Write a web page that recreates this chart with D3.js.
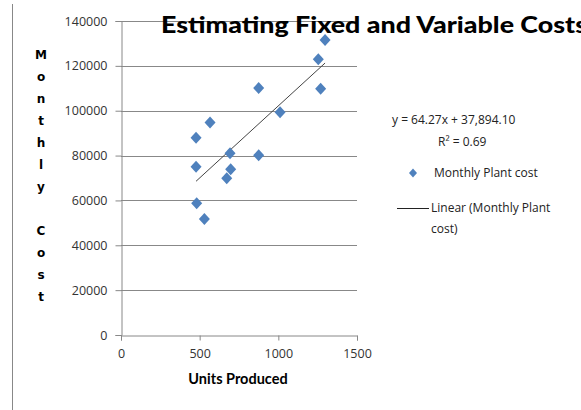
<!DOCTYPE html>
<html>
<head>
<meta charset="utf-8">
<script src="https://cdn.jsdelivr.net/npm/d3@7"></script>
<style>
  body { margin: 0; background: #fff; }
  svg { display: block; }
</style>
</head>
<body>
<div class="canvas"></div>
<script>
// data
const units = [477, 566, 477, 693, 697, 672, 875, 875, 1011, 1254, 1297, 1269, 481, 530];
const cost = [88000, 94800, 75000, 81000, 73900, 69900, 110100, 80100, 99300, 122900, 131500, 109800, 58700, 51700];
const xTicks = [0, 500, 1000, 1500];
const yTicks = [0, 20000, 40000, 60000, 80000, 100000, 120000, 140000];
const slope = 64.27, intercept = 37894.10;
const yLabel = 'Monthly Cost';

const width = 581, height = 410;
const svg = d3.select('.canvas').append('svg')
    .attr('width', width).attr('height', height);

const x = d3.scaleLinear().domain([0, 1500]).range([121, 357]);
const y = d3.scaleLinear().domain([0, 140000]).range([335, 21]);

const grey = '#888';

// left border line
svg.append('line').attr('x1', 12.5).attr('x2', 12.5).attr('y1', 4).attr('y2', height)
    .attr('stroke', grey);

// gridlines
svg.append('g').selectAll('line').data(yTicks.filter(d => d > 0)).join('line')
    .attr('x1', x(0)).attr('x2', x(1500))
    .attr('y1', d => Math.round(y(d)) + 0.5).attr('y2', d => Math.round(y(d)) + 0.5)
    .attr('stroke', grey);

// y axis
const yAxis = svg.append('g')
    .attr('transform', `translate(${x(0) + 0.5},0)`)
    .call(d3.axisLeft(y).tickValues(yTicks).tickFormat(d3.format('d')).tickSize(6).tickPadding(8));

// x axis
const xAxis = svg.append('g')
    .attr('transform', `translate(0,${Math.round(y(0)) + 0.5})`)
    .call(d3.axisBottom(x).tickValues(xTicks).tickFormat(d3.format('d')).tickSize(5).tickPadding(9));

[yAxis, xAxis].forEach(ax => {
    ax.selectAll('path, line').attr('stroke', grey);
    ax.selectAll('text').attr('font-family', 'Open Sans').attr('font-size', 12.5).attr('fill', '#333');
});

// trend line
const xr = d3.extent(units);
svg.append('line')
    .attr('x1', x(xr[0])).attr('y1', y(slope * xr[0] + intercept))
    .attr('x2', x(xr[1])).attr('y2', y(slope * xr[1] + intercept))
    .attr('stroke', '#444').attr('stroke-width', 1);

// points
const diamond = (w, h) => `M0,${-h}L${w},0L0,${h}L${-w},0Z`;
svg.append('g').selectAll('path').data(units).join('path')
    .attr('d', diamond(5.5, 6))
    .attr('transform', (d, i) => `translate(${x(d)},${y(cost[i])})`)
    .attr('fill', '#4F81BD');

// title
const title = svg.append('text')
    .attr('x', 161).attr('y', 33)
    .attr('font-family', 'Lato').attr('font-weight', 900).attr('font-size', 22)
    .attr('fill', '#000')
    .text('Estimating Fixed and Variable Costs');
title.attr('textLength', 426).attr('lengthAdjust', 'spacingAndGlyphs');

// y label, stacked letters
svg.append('g').selectAll('text').data(yLabel.split('')).join('text')
    .attr('x', 41).attr('y', (d, i) => 55 + i * 22)
    .attr('dy', '0.35em')
    .attr('text-anchor', 'middle')
    .attr('font-family', 'DejaVu Sans').attr('font-weight', 'bold').attr('font-size', 12)
    .text(d => d);

// x label
svg.append('text')
    .attr('x', 238).attr('y', 384)
    .attr('text-anchor', 'middle')
    .attr('font-family', 'Lato').attr('font-weight', 'bold').attr('font-size', 14.5)
    .text('Units Produced');

// equation
const legendFont = 'Open Sans';
svg.append('text').attr('x', 392).attr('y', 124)
    .attr('font-family', legendFont).attr('font-size', 12).attr('fill', '#222')
    .text(`y = ${slope}x + ${d3.format(',.2f')(intercept)}`);
svg.append('text').attr('x', 438).attr('y', 146)
    .attr('font-family', legendFont).attr('font-size', 12).attr('fill', '#222')
    .text('R² = 0.69');

// legend
svg.append('path').attr('d', diamond(4, 4.5))
    .attr('transform', 'translate(413,173)').attr('fill', '#4F81BD');
svg.append('text').attr('x', 434).attr('y', 177)
    .attr('font-family', legendFont).attr('font-size', 12).attr('fill', '#222')
    .text('Monthly Plant cost');
svg.append('line').attr('x1', 397).attr('x2', 429).attr('y1', 208.5).attr('y2', 208.5)
    .attr('stroke', '#222');
svg.append('text').attr('x', 431).attr('y', 212)
    .attr('font-family', legendFont).attr('font-size', 12).attr('fill', '#222')
    .text('Linear (Monthly Plant');
svg.append('text').attr('x', 431).attr('y', 233)
    .attr('font-family', legendFont).attr('font-size', 12).attr('fill', '#222')
    .text('cost)');
</script>
</body>
</html>
